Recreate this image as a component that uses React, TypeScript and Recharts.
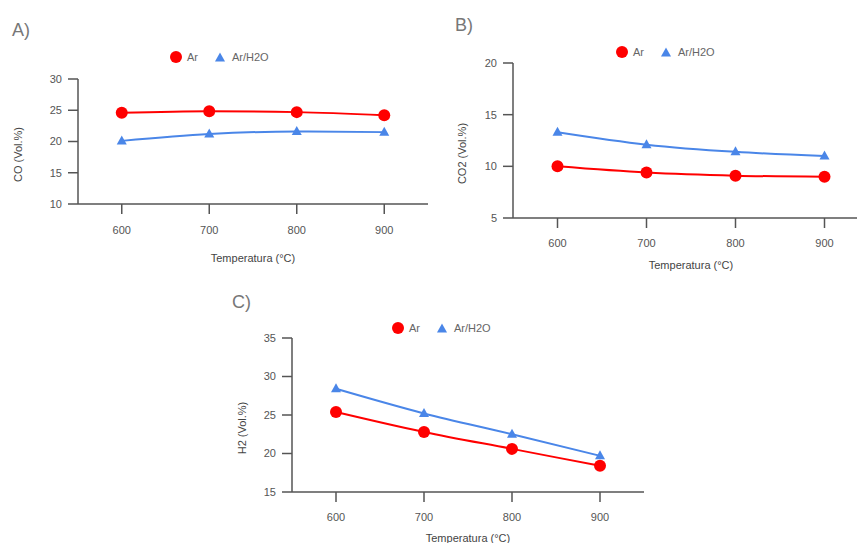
import React from "react";
import { Legend, Line, LineChart, XAxis, YAxis } from "recharts";

const temps = [600, 700, 800, 900];
const xTicks = [600, 700, 800, 900];

const coAr = [24.6, 24.85, 24.7, 24.2];
const coArH2O = [20.1, 21.2, 21.6, 21.5];
const co2Ar = [10.0, 9.4, 9.1, 9.0];
const co2ArH2O = [13.3, 12.1, 11.4, 11.0];
const h2Ar = [25.4, 22.8, 20.6, 18.4];
const h2ArH2O = [28.4, 25.2, 22.5, 19.7];

const coTicks = [10, 15, 20, 25, 30];
const co2Ticks = [5, 10, 15, 20];
const h2Ticks = [15, 20, 25, 30, 35];

const FONT = '"Liberation Sans", Arial, sans-serif';
const RED = "#ff0000";
const BLUE = "#4a86e8";
const AXIS = "#555";

const buildRows = (ar: number[], arh2o: number[]) =>
  temps.map((t, i) => ({ t, ar: ar[i], arh2o: arh2o[i] }));

const TriangleDot = (props: any) => {
  const { cx, cy, fill } = props;
  if (cx == null || cy == null) return null;
  return <path d={`M${cx},${cy - 5.5} L${cx + 5},${cy + 3.5} L${cx - 5},${cy + 3.5} Z`} fill={fill} />;
};

const LegendBox = () => (
  <div style={{ display: "flex", alignItems: "center", fontFamily: FONT, fontSize: 11, color: "#666", height: 14 }}>
    <svg width={12} height={12} style={{ marginRight: 5 }}>
      <circle cx={6} cy={6} r={6} fill={RED} />
    </svg>
    <span>Ar</span>
    <svg width={10} height={10} style={{ marginLeft: 17, marginRight: 7 }}>
      <path d="M5,0.5 L10,9.5 L0,9.5 Z" fill={BLUE} />
    </svg>
    <span>Ar/H2O</span>
  </div>
);

interface PanelProps {
  letter: string;
  letterPos: [number, number];
  left: number;
  top: number;
  width: number;
  height: number;
  plotTop: number;
  plotBottom: number;
  plotLeft: number;
  plotRight: number;
  rows: { t: number; ar: number; arh2o: number }[];
  yDomain: [number, number];
  yTicks: number[];
  yLabel: string;
  yLabelGap: number;
  xTickGap: number;
  xTitleGap: number;
  legendPos: [number, number];
}

function Panel(p: PanelProps) {
  const xAxisHeight = 60;
  const margin = {
    top: p.plotTop,
    left: 0,
    right: p.width - p.plotRight,
    bottom: p.height - p.plotBottom - xAxisHeight,
  };
  return (
    <>
      <div
        style={{
          position: "absolute",
          left: p.letterPos[0],
          top: p.letterPos[1],
          fontFamily: FONT,
          fontSize: 18,
          lineHeight: 1,
          color: "#777",
        }}
      >
        {p.letter}
      </div>
      <div style={{ position: "absolute", left: p.left, top: p.top }}>
        <LineChart width={p.width} height={p.height} data={p.rows} margin={margin}>
          <XAxis
            dataKey="t"
            type="number"
            domain={[550, 950]}
            ticks={xTicks}
            allowDataOverflow
            height={xAxisHeight}
            tickSize={10}
            tickMargin={p.xTickGap}
            stroke={AXIS}
            strokeWidth={1.5}
            tick={{ fill: AXIS, fontSize: 11, fontFamily: FONT }}
            label={{
              content: (lp: any) => {
                const vb = lp.viewBox;
                return (
                  <text
                    x={vb.x + vb.width / 2}
                    y={vb.y + p.xTitleGap}
                    textAnchor="middle"
                    dominantBaseline="central"
                    fill="#444"
                    fontSize={11}
                    fontFamily={FONT}
                  >
                    Temperatura (°C)
                  </text>
                );
              },
            }}
          />
          <YAxis
            type="number"
            domain={p.yDomain}
            ticks={p.yTicks}
            width={p.plotLeft}
            tickSize={10}
            tickMargin={6}
            stroke={AXIS}
            strokeWidth={1.5}
            tick={{ fill: AXIS, fontSize: 11, fontFamily: FONT }}
            label={{
              content: (lp: any) => {
                const vb = lp.viewBox;
                const x = vb.x + vb.width - p.yLabelGap;
                const y = vb.y + vb.height / 2 + 13;
                return (
                  <text
                    x={x}
                    y={y}
                    transform={`rotate(-90 ${x} ${y})`}
                    textAnchor="middle"
                    dominantBaseline="central"
                    fill="#444"
                    fontSize={11}
                    fontFamily={FONT}
                  >
                    {p.yLabel}
                  </text>
                );
              },
            }}
          />
          <Legend
            verticalAlign="middle"
            width={120}
            wrapperStyle={{ left: p.legendPos[0], top: p.legendPos[1] - 7 }}
            content={() => <LegendBox />}
          />
          <Line
            type="monotone"
            dataKey="ar"
            name="Ar"
            stroke={RED}
            strokeWidth={2}
            dot={{ r: 6, fill: RED, stroke: RED, strokeWidth: 0 }}
            isAnimationActive={false}
          />
          <Line
            type="monotone"
            dataKey="arh2o"
            name="Ar/H2O"
            stroke={BLUE}
            strokeWidth={2}
            dot={(dp: any) => <TriangleDot key={dp.index} {...dp} fill={BLUE} />}
            isAnimationActive={false}
          />
        </LineChart>
      </div>
    </>
  );
}

export default function App() {
  return (
    <div
      style={{
        position: "fixed",
        left: 0,
        top: 0,
        width: 857,
        height: 543,
        overflow: "hidden",
        background: "#fff",
      }}
    >
      <Panel
        letter="A)"
        letterPos={[12, 21]}
        left={0}
        top={0}
        width={440}
        height={280}
        plotTop={79}
        plotBottom={204}
        plotLeft={78}
        plotRight={428}
        rows={buildRows(coAr, coArH2O)}
        yDomain={[10, 30]}
        yTicks={coTicks}
        yLabel="CO (Vol.%)"
        yLabelGap={60}
        xTickGap={12}
        xTitleGap={54}
        legendPos={[170, 57]}
      />
      <Panel
        letter="B)"
        letterPos={[455, 16]}
        left={430}
        top={0}
        width={450}
        height={285}
        plotTop={63}
        plotBottom={218}
        plotLeft={83}
        plotRight={439}
        rows={buildRows(co2Ar, co2ArH2O)}
        yDomain={[5, 20]}
        yTicks={co2Ticks}
        yLabel="CO2 (Vol.%)"
        yLabelGap={51}
        xTickGap={11}
        xTitleGap={47}
        legendPos={[186, 52]}
      />
      <Panel
        letter="C)"
        letterPos={[232, 293]}
        left={200}
        top={280}
        width={456}
        height={270}
        plotTop={58}
        plotBottom={212}
        plotLeft={92}
        plotRight={444}
        rows={buildRows(h2Ar, h2ArH2O)}
        yDomain={[15, 35]}
        yTicks={h2Ticks}
        yLabel="H2 (Vol.%)"
        yLabelGap={50}
        xTickGap={11}
        xTitleGap={46}
        legendPos={[192, 48]}
      />
    </div>
  );
}
